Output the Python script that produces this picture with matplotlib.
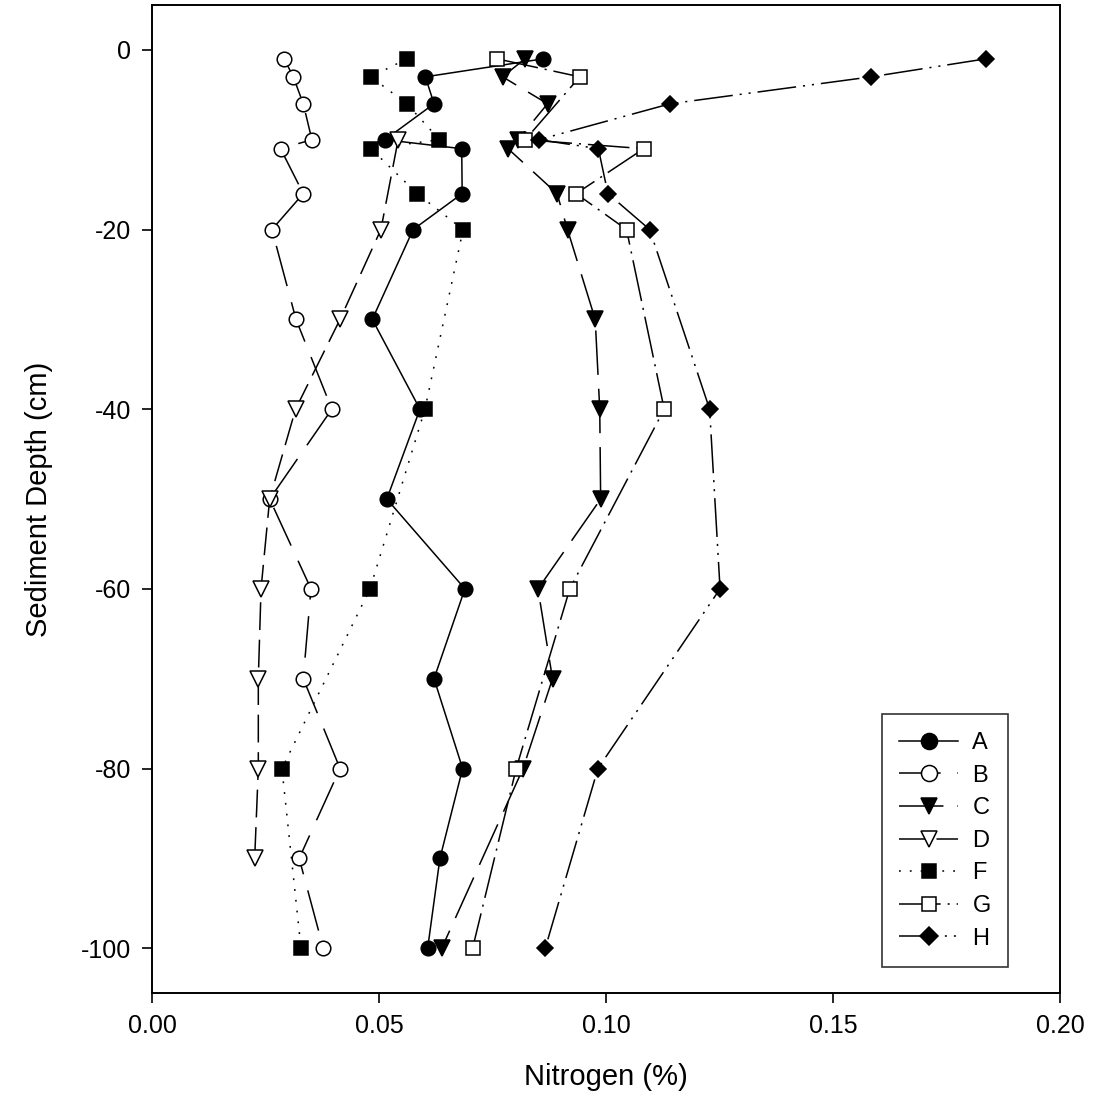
import matplotlib
matplotlib.use("Agg")
import matplotlib.pyplot as plt

plt.rcParams["font.family"] = ["Liberation Sans", "DejaVu Sans"]
plt.rcParams["lines.scale_dashes"] = False
plt.rcParams["axes.unicode_minus"] = False

# depth (cm) for each series
depth_a = [-1, -3, -6, -10, -11, -16, -20, -30, -40, -50, -60, -70, -80, -90, -100]
depth_b = [-1, -3, -6, -10, -11, -16, -20, -30, -40, -50, -60, -70, -80, -90, -100]
depth_c = [-1, -3, -6, -10, -11, -16, -20, -30, -40, -50, -60, -70, -80, -100]
depth_d = [-10, -20, -30, -40, -50, -60, -70, -80, -90]
depth_f = [-1, -3, -6, -10, -11, -16, -20, -40, -60, -80, -100]
depth_g = [-1, -3, -10, -11, -16, -20, -40, -60, -80, -100]
depth_h = [-1, -3, -6, -10, -11, -16, -20, -40, -60, -80, -100]

# nitrogen (%)
n_a = [0.0861, 0.0602, 0.0621, 0.0513, 0.0682, 0.0683, 0.0575, 0.0485,
       0.0590, 0.0517, 0.0689, 0.0621, 0.0684, 0.0634, 0.0607]
n_b = [0.0291, 0.0311, 0.0333, 0.0352, 0.0283, 0.0333, 0.0264, 0.0317,
       0.0396, 0.0259, 0.0350, 0.0333, 0.0414, 0.0324, 0.0377]
n_c = [0.0821, 0.0772, 0.0871, 0.0806, 0.0784, 0.0892, 0.0915, 0.0976,
       0.0986, 0.0988, 0.0850, 0.0882, 0.0817, 0.0638]
n_d = [0.0542, 0.0504, 0.0414, 0.0316, 0.0259, 0.0240, 0.0234, 0.0234, 0.0226]
n_f = [0.0561, 0.0482, 0.0561, 0.0633, 0.0482, 0.0584, 0.0685, 0.0601,
       0.0480, 0.0286, 0.0328]
n_g = [0.0760, 0.0942, 0.0822, 0.1083, 0.0934, 0.1045, 0.1128, 0.0920,
       0.0802, 0.0706]
n_h = [0.1836, 0.1584, 0.1141, 0.0852, 0.0983, 0.1004, 0.1096, 0.1228,
       0.1251, 0.0982, 0.0866]

x_ticks = [0.00, 0.05, 0.10, 0.15, 0.20]
x_ticklabels = ["0.00", "0.05", "0.10", "0.15", "0.20"]
y_ticks = [0, -20, -40, -60, -80, -100]

fig = plt.figure(figsize=(11.02, 11.01), dpi=100)
ax = fig.add_axes([0.138, 0.098, 0.824, 0.8975])

lw = 1.1
mew = 1.1
ax.plot(n_a, depth_a, "-", color="k", lw=lw, marker="o", ms=10.5,
        mfc="k", mec="k", mew=mew, label="A")
ax.plot(n_b, depth_b, ls=(0, (30, 12)), color="k", lw=lw, marker="o", ms=10.5,
        mfc="white", mec="k", mew=mew, label="B")
ax.plot(n_c, depth_c, ls=(0, (32, 10)), color="k", lw=lw, marker="v", ms=11,
        mfc="k", mec="k", mew=mew, label="C")
ax.plot(n_d, depth_d, ls=(0, (20, 7)), color="k", lw=lw, marker="v", ms=11,
        mfc="white", mec="k", mew=mew, label="D")
ax.plot(n_f, depth_f, ls=(0, (1.3, 6.5)), color="k", lw=lw, marker="s", ms=9.5,
        mfc="k", mec="k", mew=mew, label="F")
ax.plot(n_g, depth_g, ls=(0, (30, 5, 1.5, 5)), color="k", lw=lw, marker="s",
        ms=9.5, mfc="white", mec="k", mew=mew, label="G")
ax.plot(n_h, depth_h, ls=(0, (28, 5, 1.5, 5, 1.5, 5)), color="k", lw=lw,
        marker="D", ms=8.5, mfc="k", mec="k", mew=mew, label="H")

ax.set_xlim(0, 0.20)
ax.set_ylim(-105, 5)
ax.set_xticks(x_ticks)
ax.set_xticklabels(x_ticklabels)
ax.set_yticks(y_ticks)
ax.tick_params(direction="out", length=7, width=1.2, labelsize=18, pad=8)
for sp in ax.spines.values():
    sp.set_linewidth(1.4)

ax.set_xlabel("Nitrogen (%)", fontsize=21, labelpad=18)
ax.set_ylabel("Sediment Depth (cm)", fontsize=21, labelpad=20)

leg = ax.legend(loc="lower right", bbox_to_anchor=(0.943, 0.026), fontsize=17,
                frameon=True, fancybox=False, numpoints=1, handlelength=2.5,
                handletextpad=0.6, labelspacing=0.45, borderpad=0.75,
                borderaxespad=0, markerscale=1.1)
leg.get_frame().set_edgecolor("k")
leg.get_frame().set_linewidth(1.2)

fig.savefig("out.png", dpi=100)
